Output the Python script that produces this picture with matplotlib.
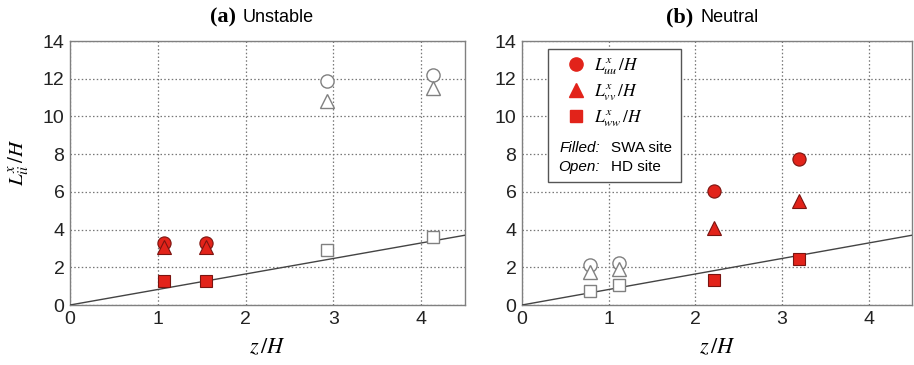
import matplotlib
matplotlib.use("Agg")
import matplotlib.pyplot as plt
from matplotlib.lines import Line2D
from matplotlib.patches import Rectangle

plt.rcParams['font.family'] = ['Liberation Sans', 'DejaVu Sans']
plt.rcParams['mathtext.fontset'] = 'stix'

# ---- data ----
# (a) Unstable
a_swa_z = [1.07, 1.55]
a_swa_uu = [3.3, 3.3]
a_swa_vv = [3.1, 3.05]
a_swa_ww = [1.25, 1.25]
a_hd_z = [2.93, 4.13]
a_hd_uu = [11.9, 12.2]
a_hd_vv = [10.8, 11.5]
a_hd_ww = [2.9, 3.6]
# (b) Neutral
b_hd_z = [0.78, 1.12]
b_hd_uu = [2.1, 2.25]
b_hd_vv = [1.75, 1.9]
b_hd_ww = [0.75, 1.05]
b_swa_z = [2.22, 3.2]
b_swa_uu = [6.05, 7.75]
b_swa_vv = [4.1, 5.5]
b_swa_ww = [1.35, 2.45]
# reference line
line_z = [0, 4.5]
line_L = [0, 3.7]

xticks = [0, 1, 2, 3, 4]
yticks = [0, 2, 4, 6, 8, 10, 12, 14]

RED = '#e2231a'
REDEDGE = '#7a1410'
GRAY = '#808080'

W, H = 914, 365
fig = plt.figure(figsize=(W / 100, H / 100), dpi=100)

def axrect(x0, x1, y0, y1):
    return [x0 / W, (H - y1) / H, (x1 - x0) / W, (y1 - y0) / H]

axA = fig.add_axes(axrect(70, 465, 41, 305))
axB = fig.add_axes(axrect(522, 912, 41, 305))

ms = 9

def filled(ax, z, uu, vv, ww):
    ax.plot(z, uu, 'o', ms=ms + 0.5, mfc=RED, mec=REDEDGE, mew=0.8, zorder=4)
    ax.plot(z, vv, '^', ms=ms + 0.5, mfc=RED, mec=REDEDGE, mew=0.8, zorder=5)
    ax.plot(z, ww, 's', ms=ms - 0.5, mfc=RED, mec=REDEDGE, mew=0.8, zorder=4)

def opened(ax, z, uu, vv, ww):
    ax.plot(z, uu, 'o', ms=ms + 0.5, mfc='white', mec=GRAY, mew=1.0, zorder=4)
    ax.plot(z, vv, '^', ms=ms + 0.5, mfc='white', mec=GRAY, mew=1.0, zorder=5)
    ax.plot(z, ww, 's', ms=ms - 0.5, mfc='white', mec=GRAY, mew=1.0, zorder=4)

for ax in (axA, axB):
    ax.plot(line_z, line_L, color='#444444', lw=1.0, zorder=3)
    ax.set_xlim(0, 4.5)
    ax.set_ylim(0, 14)
    ax.set_xticks(xticks)
    ax.set_yticks(yticks)
    ax.grid(True, color='#777777', linestyle=(0, (1.2, 1.8)), lw=0.9)
    ax.tick_params(labelsize=14, length=0, pad=4, colors='#222222')
    for s in ax.spines.values():
        s.set_color('#808080')
        s.set_linewidth(1.0)
    ax.set_xlabel(r'$z\,/H$', fontsize=16, labelpad=7)

filled(axA, a_swa_z, a_swa_uu, a_swa_vv, a_swa_ww)
opened(axA, a_hd_z, a_hd_uu, a_hd_vv, a_hd_ww)
filled(axB, b_swa_z, b_swa_uu, b_swa_vv, b_swa_ww)
opened(axB, b_hd_z, b_hd_uu, b_hd_vv, b_hd_ww)

axA.set_ylabel(r'$L^{x}_{ii}\,/H$', fontsize=15)
axA.yaxis.set_label_coords(-0.098, 0.54)

# titles
def title(xc, lab, word):
    fig.text(xc / W, (H - 17) / H, lab, ha='right', va='center',
             fontsize=16, fontweight='bold', family=['Liberation Serif', 'DejaVu Serif'])
    fig.text((xc + 7) / W, (H - 17) / H, word, ha='left', va='center', fontsize=13)

title(236, '(a)', 'Unstable')
title(693, '(b)', 'Neutral')

# legend box
box = Rectangle((0.067, 0.466), 0.341, 0.504, transform=axB.transAxes,
                fc='white', ec='#555555', lw=1.0, zorder=6)
axB.add_patch(box)
handles = [
    Line2D([], [], ls='', marker='o', ms=ms + 0.5, mfc=RED, mec=RED),
    Line2D([], [], ls='', marker='^', ms=ms + 0.5, mfc=RED, mec=RED),
    Line2D([], [], ls='', marker='s', ms=ms - 1, mfc=RED, mec=RED),
]
labels = [r'$L^{x}_{uu}\,/H$', r'$L^{x}_{vv}\,/H$', r'$L^{x}_{ww}\,/H$']
leg = axB.legend(handles, labels, loc='upper left', bbox_to_anchor=(0.096, 0.955),
                 frameon=False, fontsize=12.5, handletextpad=0.3, labelspacing=0.3,
                 handlelength=1.5, borderaxespad=0, borderpad=0.2)
leg.set_zorder(7)
axB.text(0.2, 0.595, 'Filled:', transform=axB.transAxes, ha='right', va='center',
         fontsize=11, style='italic', zorder=8)
axB.text(0.228, 0.595, 'SWA site', transform=axB.transAxes, ha='left', va='center',
         fontsize=11, zorder=8)
axB.text(0.2, 0.523, 'Open:', transform=axB.transAxes, ha='right', va='center',
         fontsize=11, style='italic', zorder=8)
axB.text(0.228, 0.523, 'HD site', transform=axB.transAxes, ha='left', va='center',
         fontsize=11, zorder=8)

fig.savefig('out.png', dpi=100)
